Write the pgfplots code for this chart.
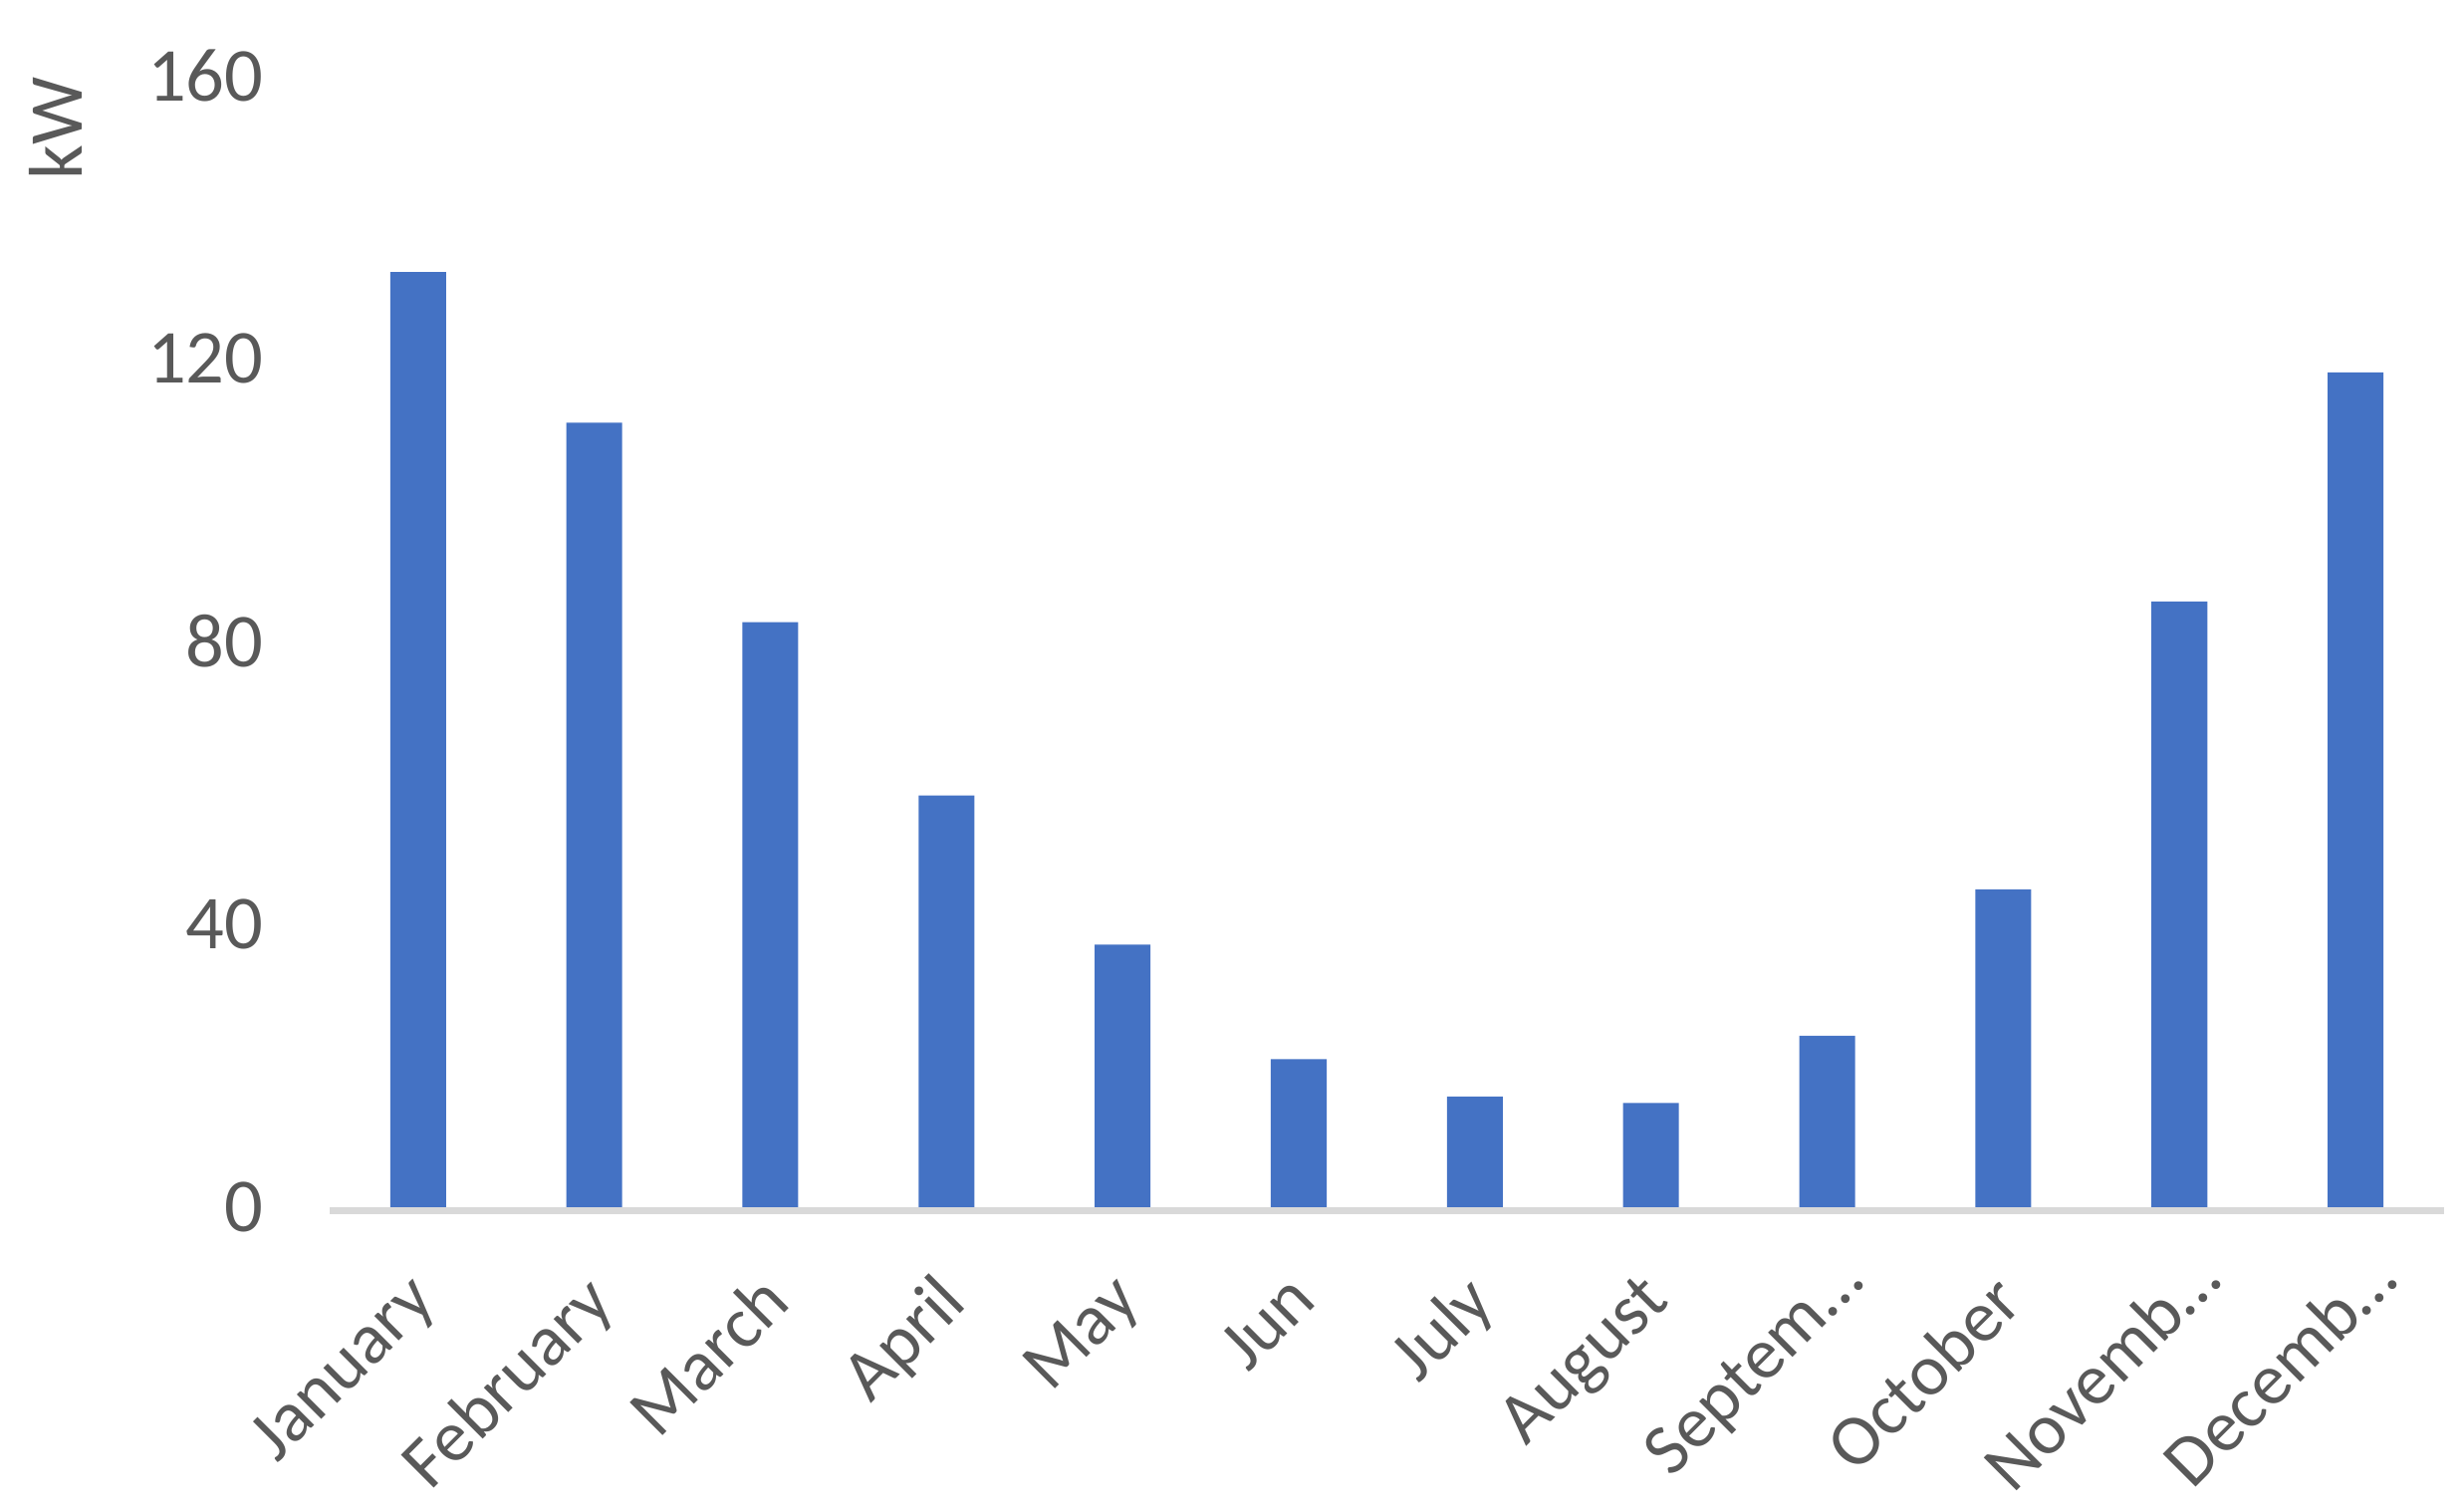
\documentclass[border=0pt]{standalone}
\usepackage{fontspec}
\setmainfont{Carlito}
\usepackage{pgfplots}
\pgfplotsset{compat=1.18}
\definecolor{barblue}{HTML}{4472C4}
\definecolor{txtgray}{HTML}{595959}
\definecolor{axgray}{HTML}{D9D9D9}

\begin{document}
\begin{tikzpicture}
\path[use as bounding box] (-2.10cm,-1.94cm) rectangle (13.58cm,7.68cm);
\begin{axis}[
    scale only axis,
    width=13.45cm, height=7.2cm,
    xmin=-0.5, xmax=11.5,
    ymin=0, ymax=160,
    ytick={0,40,80,120,160},
    xtick={0,...,11},
    xticklabels={January,February,March,April,May,Jun,July,August,
        Septem…\kern-0.17cm,October,Novemb…\kern-0.2cm,Decemb…\kern-0.2cm},
    major tick length=0pt,
    axis x line*=bottom,
    axis y line*=left,
    y axis line style={draw=none},
    x axis line style={draw=axgray, line width=1.25pt, yshift=-0.62pt},
    /pgf/number format/assume math mode=true,
    ticklabel style={text=txtgray},
    yticklabel style={font=\fontsize{13.8}{16}\selectfont, anchor=east, xshift=-0.3cm},
    xticklabel style={font=\fontsize{13.1}{15}\selectfont, rotate=45, anchor=north east,
        xshift=-0.22cm, yshift=-0.10cm},
    ylabel={kW},
    ylabel style={at={(axis description cs:-0.130,0.953)}, anchor=center,
        font=\fontsize{13.8}{16}\selectfont, text=txtgray},
    ybar,
    bar width=0.355cm,
]
\addplot[fill=barblue, draw=none] coordinates {
    (0,132.2) (1,110.9) (2,82.7) (3,58.2) (4,37.1) (5,20.9)
    (6,15.6) (7,14.7) (8,24.2) (9,44.9) (10,85.6) (11,118.0)
};
\end{axis}
\end{tikzpicture}
\end{document}
